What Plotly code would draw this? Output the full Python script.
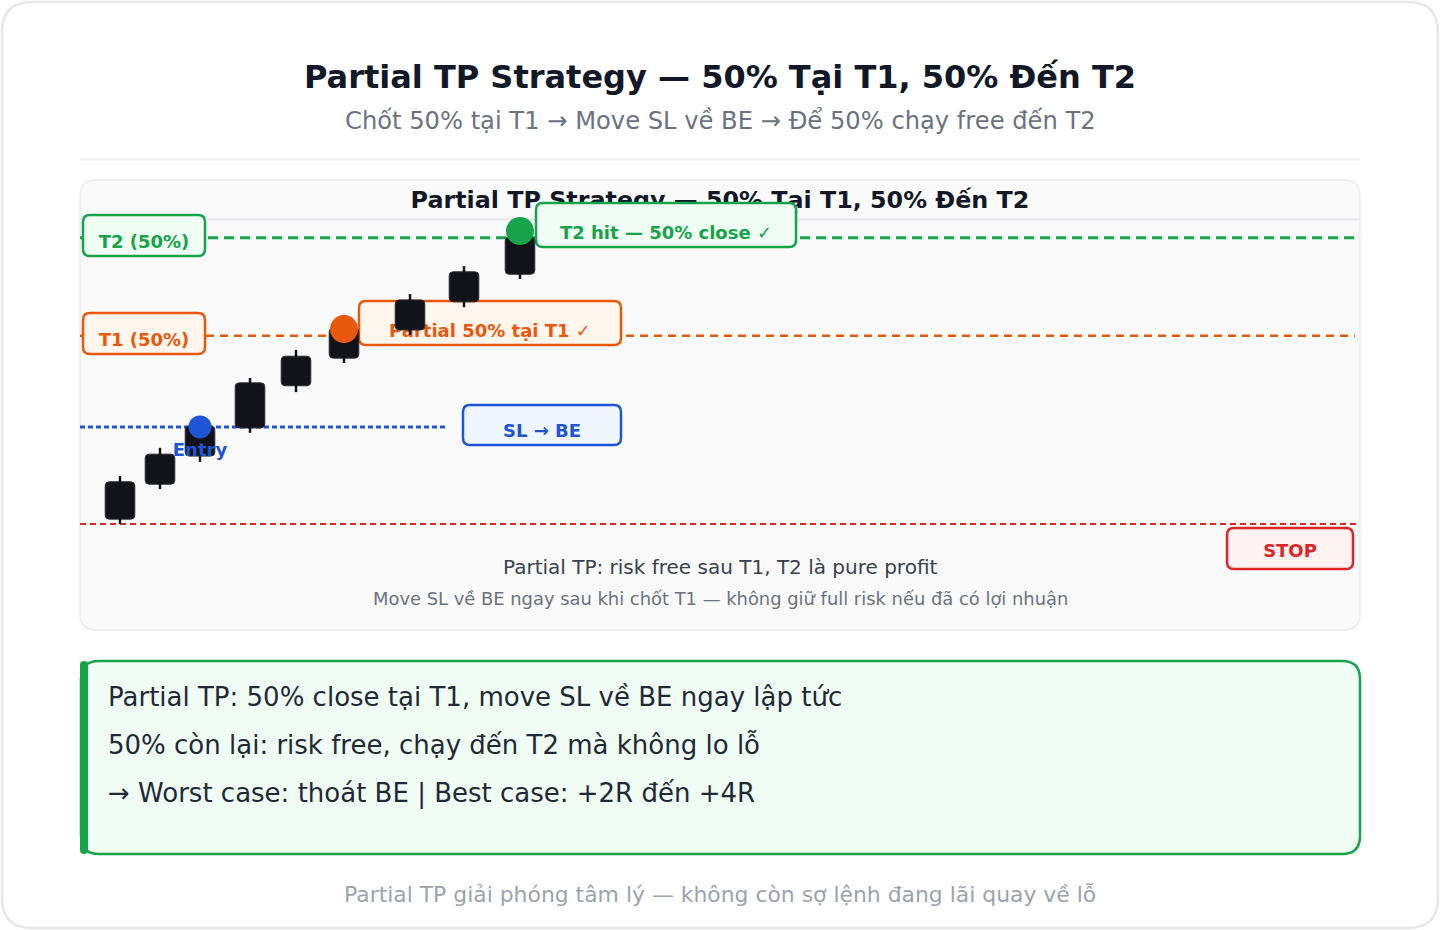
import plotly.graph_objects as go

# ---------------- data ----------------
candle_time = [1, 2, 3, 4.25, 5.4, 6.6, 8.25, 9.6, 11]
candle_open = [98.10, 98.82, 99.40, 99.98, 100.85, 101.42, 102.00, 102.58, 103.15]
candle_close = [98.87, 99.44, 100.02, 100.91, 101.46, 102.04, 102.62, 103.20, 103.92]
candle_high = [98.99, 99.57, 100.10, 101.01, 101.59, 102.12, 102.74, 103.32, 104.02]
candle_low = [98.00, 98.72, 99.28, 99.88, 100.72, 101.32, 101.90, 102.47, 103.05]

STOP_PRICE = 98.00
ENTRY_PRICE = 100.00
T1_PRICE = 101.88
T2_PRICE = 103.90

signal_time = [3, 6.6, 11]
signal_price = [100.00, 102.02, 104.04]
signal_label = ["Entry", "", ""]

TITLE = "Partial TP Strategy — 50% Tại T1, 50% Đến T2"
SUBTITLE = "Chốt 50% tại T1 → Move SL về BE → Để 50% chạy free đến T2"
CAPTION_1 = "Partial TP: risk free sau T1, T2 là pure profit"
CAPTION_2 = "Move SL về BE ngay sau khi chốt T1 — không giữ full risk nếu đã có lợi nhuận"
CALLOUT = [
    "Partial TP: 50% close tại T1, move SL về BE ngay lập tức",
    "50% còn lại: risk free, chạy đến T2 mà không lo lỗ",
    "→ Worst case: thoát BE | Best case: +2R đến +4R",
]
FOOTER = "Partial TP giải phóng tâm lý — không còn sợ lệnh đang lãi quay về lỗ"

# ---------------- style ----------------
FONT = "DejaVu Sans"
GREEN, ORANGE, BLUE, RED = "#16a34a", "#ea580c", "#1d55d6", "#dc2626"
CANDLE = "#111318"

FIG_W, FIG_H = 1440, 930
L, T, PW, PH = 80, 180, 1280, 450
X_RANGE = [0, 32]
Y_RANGE = [95.814, 105.093]


def dx(px):
    return X_RANGE[0] + (px - L) / PW * (X_RANGE[1] - X_RANGE[0])


def dy(py):
    return Y_RANGE[1] - (py - T) / PH * (Y_RANGE[1] - Y_RANGE[0])


def ppx(px):
    return (px - L) / PW


def ppy(py):
    return (T + PH - py) / PH


def rr_path(x0, y0, x1, y1, r, fx, fy):
    return (
        f"M{fx(x0 + r)},{fy(y0)} L{fx(x1 - r)},{fy(y0)} Q{fx(x1)},{fy(y0)} {fx(x1)},{fy(y0 + r)} "
        f"L{fx(x1)},{fy(y1 - r)} Q{fx(x1)},{fy(y1)} {fx(x1 - r)},{fy(y1)} "
        f"L{fx(x0 + r)},{fy(y1)} Q{fx(x0)},{fy(y1)} {fx(x0)},{fy(y1 - r)} "
        f"L{fx(x0)},{fy(y0 + r)} Q{fx(x0)},{fy(y0)} {fx(x0 + r)},{fy(y0)} Z"
    )


shapes = []
# ---- paper level (under the plot) ----
shapes.append(dict(type="path", xref="paper", yref="paper", layer="below",
                   path=rr_path(2, 2, 1438, 928, 30, ppx, ppy),
                   fillcolor="white", line=dict(color="#e5e7eb", width=2.5)))
shapes.append(dict(type="line", xref="paper", yref="paper", layer="below",
                   x0=ppx(80), x1=ppx(1360), y0=ppy(159.5), y1=ppy(159.5),
                   line=dict(color="#f1f2f4", width=2.5)))
shapes.append(dict(type="path", xref="paper", yref="paper", layer="below",
                   path=rr_path(80, 180, 1360, 630, 16, ppx, ppy),
                   fillcolor="#fafafa", line=dict(color="#f0f0f2", width=2)))
shapes.append(dict(type="path", xref="paper", yref="paper", layer="below",
                   path=rr_path(81, 661, 1360, 854, 18, ppx, ppy),
                   fillcolor="#f0fdf4", line=dict(color=GREEN, width=2.5)))
shapes.append(dict(type="path", xref="paper", yref="paper", layer="below",
                   path=rr_path(80, 661, 88, 854, 4, ppx, ppy),
                   fillcolor=GREEN, line=dict(width=0)))


def text_label(cx, cy, text, size, color, bold=True, w=200):
    t = f"<b>{text}</b>" if bold else text
    return dict(type="line", xref="x", yref="y", layer="below",
                x0=dx(cx - w / 2), x1=dx(cx + w / 2), y0=dy(cy), y1=dy(cy),
                line=dict(color="rgba(0,0,0,0)", width=1),
                label=dict(text=t, textposition="middle", xanchor="center", yanchor="middle",
                           padding=0, font=dict(family=FONT, size=size, color=color)))


# ---- inside the plot (below traces) ----
shapes.append(text_label(720, 198, TITLE, 23.8, "#111827", w=800))
shapes.append(dict(type="line", xref="x", yref="y", layer="below",
                   x0=X_RANGE[0], x1=X_RANGE[1], y0=dy(219.5), y1=dy(219.5),
                   line=dict(color="#e5e7eb", width=2)))

# level lines
shapes.append(dict(type="line", xref="x", yref="y", layer="below",
                   x0=X_RANGE[0], x1=dx(1355), y0=T2_PRICE, y1=T2_PRICE,
                   line=dict(color=GREEN, width=3, dash="10px,6px")))
shapes.append(dict(type="line", xref="x", yref="y", layer="below",
                   x0=X_RANGE[0], x1=dx(1355), y0=T1_PRICE, y1=T1_PRICE,
                   line=dict(color=ORANGE, width=2.5, dash="8px,6px")))
shapes.append(dict(type="line", xref="x", yref="y", layer="below",
                   x0=X_RANGE[0], x1=dx(446), y0=ENTRY_PRICE, y1=ENTRY_PRICE,
                   line=dict(color=BLUE, width=3, dash="5px,3px")))
shapes.append(dict(type="line", xref="x", yref="y", layer="below",
                   x0=X_RANGE[0], x1=dx(1356), y0=STOP_PRICE, y1=STOP_PRICE,
                   line=dict(color=RED, width=2, dash="6px,4px")))

# label boxes (pixel boxes, fill, border)
boxes = [
    ((83, 215, 205, 256), "#f0fdf4", GREEN, "T2 (50%)", 240),
    ((83, 313, 205, 354), "#fff7ed", ORANGE, "T1 (50%)", 338),
    ((536, 203, 796, 247), "#f0fdf4", GREEN, "T2 hit — 50% close ✓", 231),
    ((359, 301, 621, 345), "#fff7ed", ORANGE, "Partial 50% tại T1 ✓", 329),
    ((463, 405, 621, 445), "#eff6ff", BLUE, "SL → BE", 429),
    ((1227, 528, 1353, 569), "#fef2f2", RED, "STOP", 549),
]
for (x0, y0, x1, y1), fill, col, _, _ in boxes:
    shapes.append(dict(type="path", xref="x", yref="y", layer="below",
                       path=rr_path(x0, y0, x1, y1, 7, dx, dy),
                       fillcolor=fill, line=dict(color=col, width=2.5)))
for (x0, y0, x1, y1), fill, col, txt, ty in boxes:
    shapes.append(text_label((x0 + x1) / 2, ty, txt, 18, col, w=(x1 - x0)))

# ---------------- traces ----------------
fig = go.Figure()
fig.add_trace(go.Bar(
    x=candle_time,
    y=[c - o for o, c in zip(candle_open, candle_close)],
    base=candle_open,
    width=0.74,
    marker=dict(color=CANDLE, cornerradius=4, line=dict(color="#2b2e35", width=1)),
    hoverinfo="skip",
))
wx, wy = [], []
for t, lo, hi in zip(candle_time, candle_low, candle_high):
    wx += [t, t, None]
    wy += [lo, hi, None]
fig.add_trace(go.Scatter(x=wx, y=wy, mode="lines",
                         line=dict(color=CANDLE, width=2.5), hoverinfo="skip"))
fig.add_trace(go.Scatter(
    x=signal_time, y=signal_price, mode="markers+text",
    text=signal_label, texttemplate="<b>%{text}</b>", textposition="bottom center",
    textfont=dict(family=FONT, size=18, color=BLUE),
    marker=dict(size=[23, 28, 28], color=[BLUE, ORANGE, GREEN], opacity=1, line=dict(width=0)),
    hoverinfo="skip",
))

# ---------------- annotations ----------------
ann = []


def add_text(x, y, text, size, color, xanchor="center"):
    ann.append(dict(x=ppx(x), y=ppy(y), xref="paper", yref="paper", text=text,
                    showarrow=False, xanchor=xanchor, yanchor="middle",
                    font=dict(family=FONT, size=size, color=color)))


add_text(720, 77, f"<b>{TITLE}</b>", 32, "#111827")
add_text(720, 121, SUBTITLE, 24.2, "#6b7280")
add_text(720, 567, CAPTION_1, 20, "#374151")
add_text(720, 598, CAPTION_2, 17.9, "#6b7280")
for i, line in enumerate(CALLOUT):
    add_text(106, 697 + 48 * i, line, 26, "#1f2937", xanchor="left")
add_text(720, 894, FOOTER, 21.9, "#9ca3af")

fig.update_layout(
    width=FIG_W, height=FIG_H, autosize=False,
    margin=dict(l=L, r=FIG_W - L - PW, t=T, b=FIG_H - T - PH, pad=0),
    paper_bgcolor="white", plot_bgcolor="rgba(0,0,0,0)",
    xaxis=dict(range=X_RANGE, visible=False, fixedrange=True),
    yaxis=dict(range=Y_RANGE, visible=False, fixedrange=True),
    barmode="overlay", showlegend=False, hovermode=False,
    shapes=shapes, annotations=ann,
    font=dict(family=FONT),
)

fig.write_html("out.html", config={"displayModeBar": False})
